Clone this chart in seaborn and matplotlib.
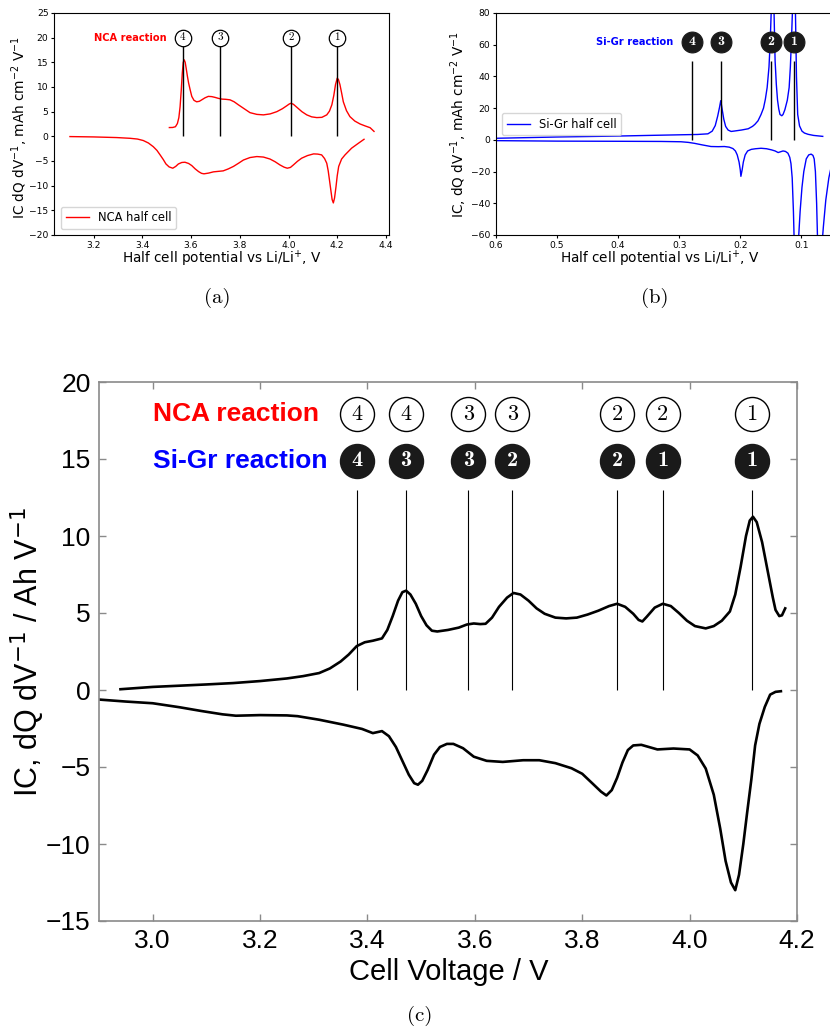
import matplotlib
matplotlib.use("Agg")
import matplotlib.pyplot as plt
import seaborn as sns

# ---------------- data ----------------
# (a) NCA half cell
nca_chg_v = [3.511, 3.525, 3.536, 3.544, 3.550, 3.555, 3.560, 3.564, 3.568, 3.572, 3.576, 3.580,
             3.585, 3.590, 3.596, 3.603, 3.612, 3.623, 3.634, 3.644, 3.657, 3.671, 3.685, 3.698,
             3.712, 3.726, 3.743, 3.760, 3.777, 3.794, 3.818, 3.842, 3.870, 3.897, 3.925, 3.952,
             3.975, 3.993, 4.003, 4.010, 4.020, 4.034, 4.055, 4.075, 4.095, 4.116, 4.137, 4.157,
             4.168, 4.178, 4.186, 4.193, 4.200, 4.205, 4.211, 4.218, 4.225, 4.238, 4.252, 4.272,
             4.294, 4.315, 4.335, 4.351]
nca_chg_ic = [1.78, 1.8, 1.95, 2.6, 3.8, 6.0, 9.5, 12.8, 15.0, 15.5, 15.0, 13.8,
              12.2, 10.8, 9.5, 8.1, 7.3, 7.0, 7.1, 7.4, 7.8, 8.1, 8.05, 7.9,
              7.7, 7.55, 7.5, 7.4, 7.0, 6.4, 5.6, 4.8, 4.45, 4.35, 4.55, 5.0,
              5.6, 6.2, 6.55, 6.7, 6.5, 5.9, 5.0, 4.35, 3.95, 3.8, 3.85, 4.35,
              5.1, 6.4, 8.3, 10.5, 11.8, 11.5, 10.5, 8.8, 7.0, 5.2, 4.0, 3.1,
              2.5, 2.1, 1.75, 1.0]
nca_dis_v = [3.103, 3.2, 3.295, 3.35, 3.38, 3.404, 3.425, 3.445, 3.46, 3.473, 3.486, 3.497,
             3.51, 3.525, 3.537, 3.548, 3.562, 3.575, 3.59, 3.603, 3.617, 3.631, 3.643, 3.653,
             3.672, 3.692, 3.712, 3.732, 3.753, 3.774, 3.795, 3.815, 3.842, 3.870, 3.897, 3.924,
             3.945, 3.965, 3.982, 3.995, 4.008, 4.020, 4.037, 4.054, 4.078, 4.103, 4.12, 4.136,
             4.148, 4.157, 4.163, 4.168, 4.174, 4.179, 4.184, 4.189, 4.195, 4.2, 4.206, 4.218,
             4.232, 4.259, 4.287, 4.31]
nca_dis_ic = [-0.05, -0.12, -0.25, -0.4, -0.55, -0.85, -1.35, -2.1, -2.85, -3.76, -4.7, -5.6,
              -6.2, -6.46, -6.1, -5.6, -5.3, -5.25, -5.5, -5.93, -6.6, -7.15, -7.5, -7.6,
              -7.45, -7.2, -7.1, -7.0, -6.6, -6.1, -5.45, -4.8, -4.3, -4.1, -4.2, -4.6,
              -5.15, -5.8, -6.25, -6.46, -6.3, -5.8, -5.05, -4.43, -3.9, -3.56, -3.6, -3.76,
              -4.5, -5.45, -7.0, -8.8, -11.0, -12.8, -13.5, -12.5, -10.2, -8.0, -6.1, -4.6,
              -3.76, -2.4, -1.4, -0.6]
nca_peaks_a = [3.565, 3.72, 4.01, 4.20]
nca_peak_labels_a = ["4", "3", "2", "1"]

# (b) Si-Gr half cell
sigr_up_v = [0.600, 0.550, 0.500, 0.450, 0.400, 0.350, 0.297, 0.270, 0.253, 0.246, 0.241, 0.237,
             0.234, 0.232, 0.230, 0.227, 0.224, 0.220, 0.215, 0.209, 0.198, 0.187, 0.180, 0.176,
             0.171, 0.166, 0.162, 0.159, 0.156, 0.153, 0.151, 0.149, 0.147, 0.145, 0.143, 0.141,
             0.139, 0.137, 0.135, 0.132, 0.130, 0.127, 0.123, 0.120, 0.118, 0.116, 0.114, 0.112,
             0.110, 0.108, 0.106, 0.103, 0.099, 0.095, 0.089, 0.080, 0.065]
sigr_up_ic = [1.0, 1.4, 1.8, 2.1, 2.4, 2.8, 3.2, 3.4, 3.8, 5.5, 9.0, 15.0,
              20.5, 24.7, 20.0, 13.0, 8.5, 6.2, 5.3, 5.6, 6.2, 7.0, 8.5, 9.8,
              12.0, 16.0, 20.0, 25.5, 33.0, 46.0, 62.0, 85.0, 100.0, 85.0, 50.0, 35.0,
              25.0, 19.5, 16.0, 15.2, 16.0, 19.0, 25.0, 33.0, 46.0, 65.0, 88.0, 110.0,
              88.0, 40.0, 16.0, 8.8, 5.5, 4.3, 3.5, 2.8, 2.2]
sigr_low_v = [0.600, 0.500, 0.400, 0.330, 0.297, 0.285, 0.275, 0.262, 0.248, 0.236, 0.226, 0.218,
              0.212, 0.208, 0.205, 0.202, 0.200, 0.199, 0.197, 0.195, 0.192, 0.188, 0.182, 0.175,
              0.166, 0.157, 0.149, 0.143, 0.138, 0.134, 0.130, 0.126, 0.122, 0.119, 0.117, 0.115,
              0.113, 0.111, 0.108, 0.105, 0.102, 0.099, 0.096, 0.092, 0.088, 0.084, 0.081, 0.079,
              0.077, 0.075, 0.073, 0.070, 0.067, 0.064, 0.060, 0.055, 0.050, 0.045]
sigr_low_ic = [-0.5, -0.8, -0.9, -1.0, -1.2, -1.6, -2.2, -3.2, -4.2, -4.3, -4.2, -4.6,
               -5.5, -7.0, -9.5, -14.0, -19.0, -23.0, -19.0, -14.0, -9.5, -7.0, -6.0, -5.6,
               -5.3, -5.6, -6.3, -7.0, -8.0, -7.5, -7.0, -7.3, -8.4, -11.0, -15.0, -24.0,
               -45.0, -75.0, -90.0, -65.0, -45.0, -30.0, -20.0, -12.0, -9.5, -9.0, -9.8, -12.0,
               -20.0, -40.0, -70.0, -85.0, -70.0, -55.0, -38.0, -24.0, -15.0, -10.0]
sigr_peaks_b = [0.279, 0.232, 0.150, 0.112]
sigr_peak_labels_b = ["4", "3", "2", "1"]

# (c) full cell
cell_chg_v = [2.94, 3.00, 3.05, 3.10, 3.15, 3.20, 3.25, 3.28, 3.31, 3.33, 3.35, 3.365, 3.38, 3.395,
              3.41, 3.427, 3.437, 3.447, 3.457, 3.465, 3.472, 3.48, 3.49, 3.50, 3.51, 3.52, 3.53,
              3.55, 3.57, 3.585, 3.598, 3.61, 3.62, 3.632, 3.645, 3.66, 3.672, 3.685, 3.70, 3.715,
              3.73, 3.75, 3.77, 3.79, 3.81, 3.83, 3.85, 3.865, 3.88, 3.895, 3.905, 3.912, 3.92,
              3.935, 3.95, 3.965, 3.98, 3.995, 4.01, 4.03, 4.045, 4.06, 4.075, 4.085, 4.095, 4.105,
              4.112, 4.118, 4.125, 4.135, 4.145, 4.155, 4.160, 4.167, 4.172, 4.178]
cell_chg_ic = [0.05, 0.2, 0.28, 0.36, 0.45, 0.58, 0.75, 0.9, 1.1, 1.4, 1.85, 2.3, 2.85, 3.1,
               3.2, 3.35, 3.9, 4.8, 5.8, 6.35, 6.45, 6.2, 5.6, 4.8, 4.2, 3.85, 3.8,
               3.9, 4.05, 4.25, 4.32, 4.28, 4.3, 4.7, 5.4, 6.0, 6.3, 6.2, 5.8, 5.3,
               4.95, 4.7, 4.65, 4.7, 4.9, 5.15, 5.45, 5.6, 5.4, 4.95, 4.55, 4.45, 4.75,
               5.35, 5.6, 5.45, 5.0, 4.5, 4.15, 4.0, 4.15, 4.5, 5.1, 6.2, 8.0, 10.0,
               11.0, 11.25, 10.9, 9.6, 7.8, 6.0, 5.2, 4.8, 4.85, 5.3]
cell_dis_v = [2.90, 2.95, 3.00, 3.05, 3.09, 3.13, 3.155, 3.20, 3.25, 3.27, 3.31, 3.355, 3.39, 3.41,
              3.427, 3.44, 3.453, 3.465, 3.477, 3.487, 3.494, 3.502, 3.512, 3.524, 3.535, 3.548,
              3.56, 3.578, 3.598, 3.622, 3.652, 3.69, 3.72, 3.75, 3.78, 3.80, 3.82, 3.835, 3.845,
              3.855, 3.865, 3.875, 3.885, 3.895, 3.91, 3.94, 3.97, 4.00, 4.015, 4.03, 4.045, 4.057,
              4.067, 4.077, 4.085, 4.092, 4.10, 4.107, 4.115, 4.122, 4.13, 4.14, 4.15, 4.16, 4.17]
cell_dis_ic = [-0.62, -0.75, -0.86, -1.12, -1.36, -1.58, -1.67, -1.63, -1.65, -1.7, -1.93, -2.25, -2.53, -2.8,
               -2.67, -3.0, -3.7, -4.6, -5.5, -6.05, -6.15, -5.9, -5.2, -4.2, -3.7, -3.5,
               -3.5, -3.78, -4.33, -4.6, -4.67, -4.56, -4.56, -4.75, -5.08, -5.44, -6.1, -6.6, -6.85,
               -6.5, -5.7, -4.7, -3.9, -3.6, -3.56, -3.86, -3.8, -3.86, -4.25, -5.1, -6.8, -9.0,
               -11.1, -12.5, -13.0, -12.0, -10.0, -8.0, -5.8, -3.6, -2.2, -1.1, -0.3, -0.12, -0.08]
cell_peaks_c = [3.381, 3.471, 3.588, 3.670, 3.865, 3.950, 4.116]
nca_labels_c = ["4", "4", "3", "3", "2", "2", "1"]
sigr_labels_c = ["4", "3", "3", "2", "2", "1", "1"]

a_xticks = [3.2, 3.4, 3.6, 3.8, 4.0, 4.2, 4.4]
a_yticks = [-20, -15, -10, -5, 0, 5, 10, 15, 20, 25]
b_xticks = [0.6, 0.5, 0.4, 0.3, 0.2, 0.1]
b_yticks = [-60, -40, -20, 0, 20, 40, 60, 80]
c_xticks = [3.0, 3.2, 3.4, 3.6, 3.8, 4.0, 4.2]
c_xticklabels = ["3.0", "3.2", "3.4", "3.6", "3.8", "4.0", "4.2"]
c_yticks = [-15, -10, -5, 0, 5, 10, 15, 20]
c_yticklabels = ["\u221215", "\u221210", "\u22125", "0", "5", "10", "15", "20"]

# ---------------- figure ----------------
W, H = 830, 1033
fig = plt.figure(figsize=(W / 100, H / 100), dpi=100)


def fx(px):
    return px / W


def fy(py):
    return 1 - py / H


# ---------- panel (a) ----------
axA = fig.add_axes([fx(54), fy(235), fx(335), 222 / H])
sns.lineplot(x=nca_chg_v, y=nca_chg_ic, ax=axA, color="#ff0000", lw=1.0, sort=False, estimator=None)
sns.lineplot(x=nca_dis_v, y=nca_dis_ic, ax=axA, color="#ff0000", lw=1.0, sort=False, estimator=None)
axA.set_xlim(3.0375, 4.4125)
axA.set_ylim(-20, 25)
axA.set_xticks(a_xticks)
axA.set_yticks(a_yticks)
axA.tick_params(labelsize=6.6, length=2.5, width=0.8, pad=1.5)
axA.vlines(nca_peaks_a, 0, 18.5, color="black", lw=1.0)
axA.scatter(nca_peaks_a, [20] * len(nca_peaks_a), s=140, facecolor="white", edgecolor="black", lw=0.9, zorder=5)
for xv, lab in zip(nca_peaks_a, nca_peak_labels_a):
    axA.text(xv, 20, lab, family="cmr10", fontsize=8, ha="center", va="center", zorder=6)
axA.text(3.50, 20, "NCA reaction", color="#ff0000", fontweight="bold", fontsize=7.1, ha="right", va="center")
axA.legend(handles=[axA.lines[0]], labels=["NCA half cell"], loc="lower left",
           bbox_to_anchor=(fx(61), fy(229)), bbox_transform=fig.transFigure,
           borderaxespad=0, fontsize=8.3)
axA.set_xlabel("Half cell potential vs Li/Li$^{+}$, V", fontsize=9.8, va="center")
axA.xaxis.set_label_coords(fx(222), fy(259), transform=fig.transFigure)
axA.set_ylabel("IC dQ dV$^{-1}$, mAh cm$^{-2}$ V$^{-1}$", fontsize=9.8, va="center")
axA.yaxis.set_label_coords(fx(20), fy(128), transform=fig.transFigure)

# ---------- panel (b) ----------
axB = fig.add_axes([fx(496), fy(235), fx(342), 222 / H])
sns.lineplot(x=sigr_up_v, y=sigr_up_ic, ax=axB, color="#0000ff", lw=1.0, sort=False, estimator=None)
sns.lineplot(x=sigr_low_v, y=sigr_low_ic, ax=axB, color="#0000ff", lw=1.0, sort=False, estimator=None)
axB.set_xlim(0.6, 0.04)
axB.set_ylim(-60, 80)
axB.set_xticks(b_xticks)
axB.set_yticks(b_yticks)
axB.tick_params(labelsize=6.6, length=2.5, width=0.8, pad=1.5)
axB.vlines(sigr_peaks_b, 0, 50, color="black", lw=1.0)
axB.scatter(sigr_peaks_b, [62] * len(sigr_peaks_b), s=225, facecolor="#1a1a1a", edgecolor="#1a1a1a", lw=0.8, zorder=5)
for xv, lab in zip(sigr_peaks_b, sigr_peak_labels_b):
    axB.text(xv, 62, lab, family="cmb10", fontsize=10, color="white", ha="center", va="center", zorder=6)
axB.text(0.31, 62, "Si-Gr reaction", color="#0000ff", fontweight="bold", fontsize=7.1, ha="right", va="center")
axB.legend(handles=[axB.lines[0]], labels=["Si-Gr half cell"], loc="upper left",
           bbox_to_anchor=(fx(502), fy(113)), bbox_transform=fig.transFigure,
           borderaxespad=0, fontsize=8.3)
axB.set_xlabel("Half cell potential vs Li/Li$^{+}$, V", fontsize=9.8, va="center")
axB.xaxis.set_label_coords(fx(660), fy(259), transform=fig.transFigure)
axB.set_ylabel("IC, dQ dV$^{-1}$, mAh cm$^{-2}$ V$^{-1}$", fontsize=9.8, va="center")
axB.yaxis.set_label_coords(fx(459), fy(124), transform=fig.transFigure)

# ---------- panel (c) ----------
sans_c = ["Liberation Sans", "DejaVu Sans"]
axC = fig.add_axes([fx(99), fy(921), fx(698), 539 / H])
sns.lineplot(x=cell_chg_v, y=cell_chg_ic, ax=axC, color="black", lw=1.9, sort=False, estimator=None)
sns.lineplot(x=cell_dis_v, y=cell_dis_ic, ax=axC, color="black", lw=1.9, sort=False, estimator=None)
axC.set_xlim(2.9, 4.2)
axC.set_ylim(-15, 20)
axC.set_xticks(c_xticks, labels=c_xticklabels, fontsize=19, family=sans_c)
axC.set_yticks(c_yticks, labels=c_yticklabels, fontsize=19, family=sans_c)
axC.tick_params(direction="in", top=True, right=True, length=5, width=1.0, color="#8a8a8a", pad=6)
for sp in axC.spines.values():
    sp.set_color("#8a8a8a")
    sp.set_linewidth(1.2)
axC.vlines(cell_peaks_c, 0, 13, color="black", lw=0.8)
axC.scatter(cell_peaks_c, [17.9] * len(cell_peaks_c), s=600, facecolor="white", edgecolor="black", lw=1.0, zorder=5)
axC.scatter(cell_peaks_c, [14.9] * len(cell_peaks_c), s=600, facecolor="#1a1a1a", edgecolor="#1a1a1a", lw=1.0, zorder=5)
for xv, l1, l2 in zip(cell_peaks_c, nca_labels_c, sigr_labels_c):
    axC.text(xv, 17.9, l1, family="cmr10", fontsize=16, ha="center", va="center", zorder=6)
    axC.text(xv, 14.9, l2, family="cmb10", fontsize=16, color="white", ha="center", va="center", zorder=6)
axC.text(3.0, 17.9, "NCA reaction", color="#ff0000", fontweight="bold", fontsize=19, family=sans_c,
         ha="left", va="center")
axC.text(3.0, 14.9, "Si-Gr reaction", color="#0000ff", fontweight="bold", fontsize=19, family=sans_c,
         ha="left", va="center")
axC.set_xlabel("Cell Voltage / V", fontsize=21, family=sans_c, va="center")
axC.xaxis.set_label_coords(fx(449), fy(972), transform=fig.transFigure)
axC.set_ylabel("IC, dQ dV$^{-1}$ / Ah V$^{-1}$", fontsize=22, family=sans_c, va="center")
axC.yaxis.set_label_coords(fx(28), fy(652), transform=fig.transFigure)

# captions
fig.text(fx(217), fy(298), "(a)", family="cmr10", fontsize=15, ha="center", va="center")
fig.text(fx(655), fy(298), "(b)", family="cmr10", fontsize=15, ha="center", va="center")
fig.text(fx(420), fy(1016), "(c)", family="cmr10", fontsize=15, ha="center", va="center")

fig.savefig("out.png", dpi=100)
